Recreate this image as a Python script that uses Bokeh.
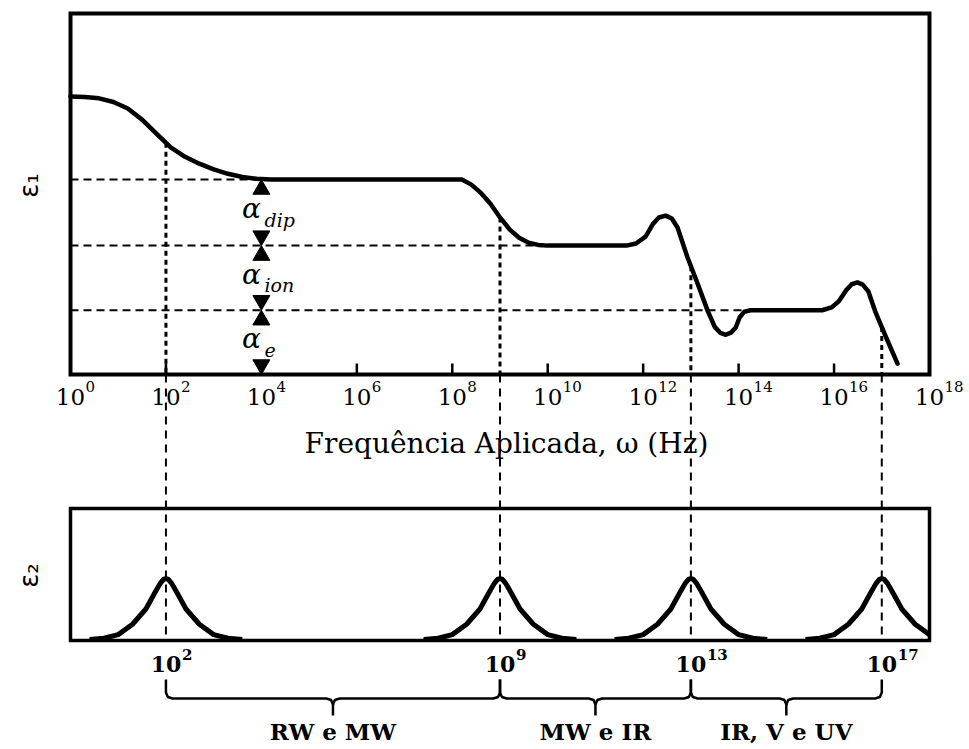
import numpy as np
from bokeh.plotting import figure
from bokeh.models import Range1d
from bokeh.core.properties import value
from bokeh.embed import file_html
from bokeh.resources import INLINE

# ---------------- data ----------------
# real part eps1 (arbitrary units, 0 = axis bottom, 100 = frame top) vs log10(frequency)
eps1_logf = [0.0, 0.3, 0.6, 0.9, 1.2, 1.5, 1.8, 2.1, 2.4, 2.7, 3.0, 3.3, 3.6, 3.9, 4.2,
             8.2, 8.4, 8.6, 8.8, 9.0, 9.2, 9.4, 9.6, 9.8, 10.0,
             11.65, 11.85, 12.05, 12.2, 12.33, 12.47, 12.6, 12.72, 12.93, 13.14, 13.35,
             13.5, 13.62, 13.73, 13.84, 13.94, 14.02, 14.12, 14.25,
             15.75, 15.95, 16.1, 16.25, 16.37, 16.49, 16.6, 16.72, 16.87, 17.12, 17.33]
eps1_vals = [77.0, 76.9, 76.5, 75.5, 73.7, 70.6, 66.7, 62.9, 60.3, 58.4, 56.8, 55.6, 54.7, 54.2, 54.0,
             54.0, 52.6, 50.3, 47.3, 43.5, 40.2, 37.9, 36.5, 35.9, 35.7,
             35.7, 36.3, 38.2, 41.6, 43.5, 44.0, 43.2, 40.7, 32.4, 25.2, 17.7,
             13.2, 11.5, 11.0, 11.6, 13.0, 15.8, 17.4, 17.8,
             17.8, 18.6, 20.3, 23.3, 25.0, 25.5, 24.9, 23.0, 17.2, 9.4, 3.0]

# plateau levels (dip, ion, e) and where each plateau begins
levels = [54.0, 35.7, 17.8]
plateau_start = [4.0, 9.7, 14.1]
alpha_x = 4.0
alpha_subs = ["dip", "ion", "e"]

# imaginary part eps2: resonance positions and a shared peak profile
resonance_logf = [2, 9, 13, 17]
resonance_labels = ["2", "9", "13", "17"]
peak_offsets = [-1.6, -1.3, -1.0, -0.7, -0.42, -0.23, -0.12, -0.05, 0.0,
                0.05, 0.12, 0.23, 0.42, 0.7, 1.0, 1.3, 1.6]
peak_shape = [0.0, 0.02, 0.08, 0.25, 0.5, 0.77, 0.92, 0.985, 1.0,
              0.985, 0.92, 0.77, 0.5, 0.25, 0.08, 0.02, 0.0]

# top axis ticks
top_ticks = [0, 2, 4, 6, 8, 10, 12, 14, 16, 18]
top_exps = ["0", "2", "4", "6", "8", "10", "12", "14", "16", "18"]

# spectral bands
band_names = ["RW e MW", "MW e IR", "IR, V e UV"]
band_start = [2, 9, 13]
band_end = [9, 13, 17]

# ---------------- layout helpers (pixels -> data) ----------------
W, H = 969, 749
PX_L, PX_R = 70, 929
PPD = (PX_R - PX_L) / 18.0
TOP_PY, BOT_PY = 13, 374
PPU = (BOT_PY - TOP_PY) / 100.0
E2_BASE_PY, E2_PEAK_PX = 639, 61.0


def X(px):
    return (px - PX_L) / PPD


def Y(py):
    return (BOT_PY - py) / PPU


p = figure(width=W, height=H, x_range=Range1d(X(0), X(W)), y_range=Range1d(Y(H), Y(0)),
           output_backend="svg", toolbar_location=None, min_border=0,
           x_axis_location=None, y_axis_location=None)
p.grid.visible = False
p.outline_line_color = None
p.background_fill_color = "white"
p.border_fill_color = "white"
p.extra_y_ranges = {"e2": Range1d(-(H - E2_BASE_PY) / E2_PEAK_PX, E2_BASE_PY / E2_PEAK_PX)}

SERIF = value("DejaVu Serif")
BLACK = "black"

# ---------- top panel ----------
p.quad(left=[0], right=[18], bottom=[0], top=[100], fill_color=None,
       line_color=BLACK, line_width=4, line_join="miter")
inner = [t for t in top_ticks if 0 < t < 18]
p.segment(x0=inner, y0=[0] * len(inner), x1=inner, y1=[Y(363)] * len(inner),
          line_color=BLACK, line_width=2.5)

# horizontal dashed guides
p.segment(x0=[0] * 3, y0=levels, x1=plateau_start, y1=levels,
          line_color=BLACK, line_width=2, line_dash="8 5")

# vertical guides from curve down to bottom panel baseline
curve_at = list(np.interp(resonance_logf, eps1_logf, eps1_vals))
p.segment(x0=resonance_logf, y0=curve_at, x1=resonance_logf, y1=[0] * 4,
          line_color=BLACK, line_width=3, line_dash="5 4")
p.segment(x0=resonance_logf, y0=[0] * 4, x1=resonance_logf, y1=[Y(E2_BASE_PY)] * 4,
          line_color=BLACK, line_width=2, line_dash="8 6")

# eps1 curve
p.line(eps1_logf, eps1_vals, line_color=BLACK, line_width=4.5,
       line_join="round", line_cap="round")

# arrows (triangle heads) between levels
TRI = 17
off = 0.577 * TRI / PPU
up_tips = levels
down_tips = levels[1:] + [0.0]
p.scatter(x=[alpha_x] * 3, y=[t - off for t in up_tips], marker="triangle",
          size=TRI, color=BLACK)
p.scatter(x=[alpha_x] * 3, y=[t + off for t in down_tips], marker="inverted_triangle",
          size=TRI, color=BLACK)

mids = [(up_tips[i] + down_tips[i]) / 2 for i in range(3)]
p.text(x=[X(251)] * 3, y=[m + 1.0 for m in mids], text=["α"] * 3,
       text_font=SERIF, text_font_style="italic", text_font_size="28px",
       text_align="center", text_baseline="middle", text_color=BLACK)
p.text(x=[X(264)] * 3, y=[m - 2.0 for m in mids], text=alpha_subs,
       text_font=SERIF, text_font_style="italic", text_font_size="19px",
       text_align="left", text_baseline="middle", text_color=BLACK)

# top tick labels
p.text(x=top_ticks, y=[Y(396)] * len(top_ticks), text=["10"] * len(top_ticks),
       text_font=SERIF, text_font_size="23px", text_align="center",
       text_baseline="middle", text_color=BLACK)
p.text(x=[t + X(PX_L + 15) for t in top_ticks], y=[Y(386)] * len(top_ticks), text=top_exps,
       text_font=SERIF, text_font_size="15px", text_align="left",
       text_baseline="middle", text_color=BLACK)

# axis title
p.text(x=[X(506)], y=[Y(443)], text=["Frequência Aplicada, ω (Hz)"],
       text_font=SERIF, text_font_size="28px", text_align="center",
       text_baseline="middle", text_color=BLACK)

# eps labels
p.text(x=[X(28)], y=[Y(185)], text=["ε₁"], angle=np.pi / 2,
       text_font=value("DejaVu Sans"), text_font_size="26px", text_align="center",
       text_baseline="middle", text_color=BLACK)
p.text(x=[X(28)], y=[Y(575)], text=["ε₂"], angle=np.pi / 2,
       text_font=value("DejaVu Sans"), text_font_size="26px", text_align="center",
       text_baseline="middle", text_color=BLACK)

# ---------- bottom panel ----------
p.quad(left=[0], right=[18], bottom=[Y(640)], top=[Y(508)], fill_color=None,
       line_color=BLACK, line_width=3.5, line_join="miter")

xs, ys = [], []
for c in resonance_logf:
    px_, py_ = [], []
    for o, s in zip(peak_offsets, peak_shape):
        if 0 <= c + o <= 18:
            px_.append(c + o)
            py_.append(s)
    xs.append(px_)
    ys.append(py_)
p.multi_line(xs=xs, ys=ys, y_range_name="e2", line_color=BLACK, line_width=5,
             line_join="round")

# bottom tick labels
p.text(x=resonance_logf, y=[Y(663)] * 4, text=["10"] * 4, text_font=SERIF,
       text_font_style="bold", text_font_size="22px", text_align="center",
       text_baseline="middle", text_color=BLACK)
p.text(x=[r + X(PX_L + 16) for r in resonance_logf], y=[Y(654)] * 4, text=resonance_labels,
       text_font=SERIF, text_font_style="bold", text_font_size="15px", text_align="left",
       text_baseline="middle", text_color=BLACK)

# braces
bx, by = [], []
yt, yh, yc, ytip = Y(679), Y(698), Y(692), Y(715)
for a, b in zip(band_start, band_end):
    m = (a + b) / 2
    bx.append([a, a, a + 0.04, a + 0.14, m - 0.14, m - 0.04, m, m])
    by.append([yt, yc, Y(696.5), yh, yh, Y(699.5), Y(704), ytip])
    bx.append([m, m + 0.04, m + 0.14, b - 0.14, b - 0.04, b, b])
    by.append([Y(704), Y(699.5), yh, yh, Y(696.5), yc, yt])
p.multi_line(xs=bx, ys=by, line_color=BLACK, line_width=2.5, line_join="round")

p.text(x=[(a + b) / 2 for a, b in zip(band_start, band_end)], y=[Y(731)] * 3,
       text=band_names, text_font=SERIF, text_font_style="bold", text_font_size="23px",
       text_align="center", text_baseline="middle", text_color=BLACK)

open("out.html", "w").write(file_html(p, INLINE))
